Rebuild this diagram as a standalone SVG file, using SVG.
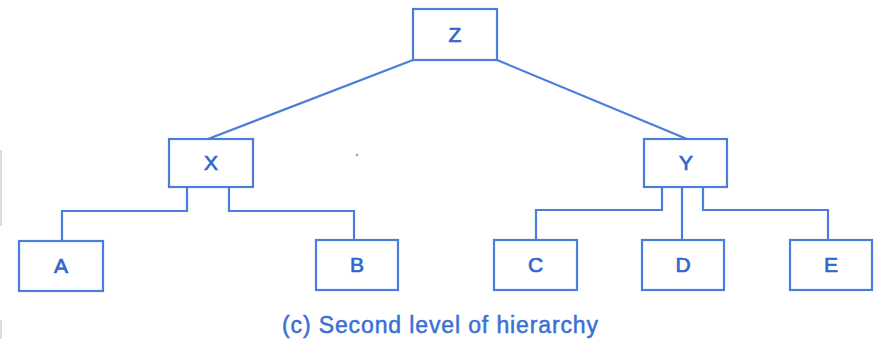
<svg xmlns="http://www.w3.org/2000/svg" width="877" height="339" viewBox="0 0 877 339">
  <style>
    .box { fill: #ffffff; stroke: #4a7edb; stroke-width: 2.2; }
    .link { fill: none; stroke: #4a7edb; stroke-width: 2.2; }
    .label { font-family: "Liberation Sans", Arial, sans-serif; font-size: 21px; fill: #2f66cf; stroke: #2f66cf; stroke-width: 0.7; text-anchor: middle; }
    .caption { font-family: "Liberation Sans", Arial, sans-serif; font-size: 23px; fill: #3a6fd6; stroke: #3a6fd6; stroke-width: 0.5; }
  </style>
  <rect width="877" height="339" fill="#ffffff"/>

  <!-- faint scan edges -->
  <rect x="0" y="150" width="2" height="76" fill="#dcdcdc"/>
  <rect x="0" y="320" width="2" height="19" fill="#dcdcdc"/>
  <circle cx="357" cy="155" r="1.3" fill="#9aa3b5"/>

  <g id="connectors">
    <line class="link" x1="413" y1="60" x2="208" y2="139"/>
    <line class="link" x1="497" y1="60" x2="687" y2="139"/>
    <path class="link" d="M187 187 V211 H62 V241"/>
    <path class="link" d="M229 187 V211 H354 V240"/>
    <path class="link" d="M662 187 V210 H536 V240"/>
    <path class="link" d="M682 187 V240"/>
    <path class="link" d="M703 187 V210 H828 V240"/>
  </g>

  <g id="node-z">
    <rect class="box" x="413" y="9" width="84" height="51"/>
    <text class="label" x="455" y="42">Z</text>
  </g>
  <g id="node-x">
    <rect class="box" x="169" y="139" width="84" height="48"/>
    <text class="label" x="211" y="170">X</text>
  </g>
  <g id="node-y">
    <rect class="box" x="644" y="139" width="83" height="48"/>
    <text class="label" x="686" y="170">Y</text>
  </g>
  <g id="node-a">
    <rect class="box" x="19" y="241" width="84" height="50"/>
    <text class="label" x="61" y="273">A</text>
  </g>
  <g id="node-b">
    <rect class="box" x="316" y="240" width="82" height="50"/>
    <text class="label" x="357" y="272">B</text>
  </g>
  <g id="node-c">
    <rect class="box" x="494" y="240" width="83" height="50"/>
    <text class="label" x="535.5" y="272">C</text>
  </g>
  <g id="node-d">
    <rect class="box" x="642" y="240" width="82" height="50"/>
    <text class="label" x="683" y="272">D</text>
  </g>
  <g id="node-e">
    <rect class="box" x="790" y="240" width="82" height="50"/>
    <text class="label" x="831" y="272">E</text>
  </g>

  <text class="caption" x="282" y="333" textLength="316" lengthAdjust="spacing">(c) Second level of hierarchy</text>
</svg>
